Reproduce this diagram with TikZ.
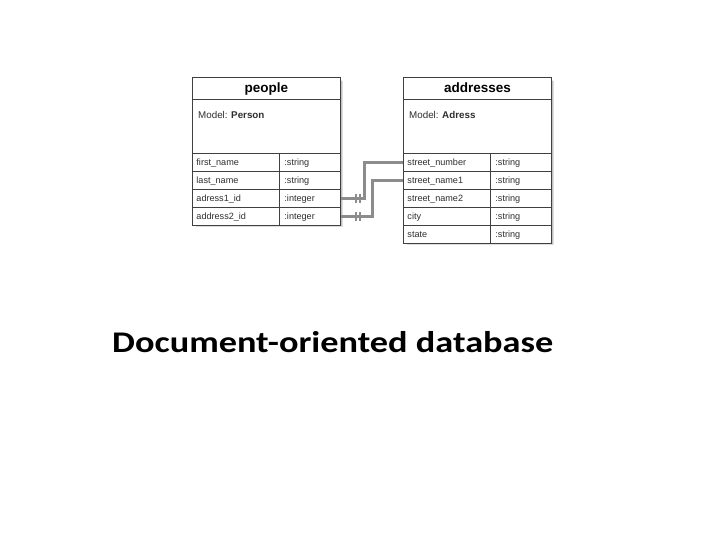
\documentclass[tikz,border=0pt]{standalone}
\usepackage{fontspec}
\setmainfont{Liberation Sans}
\newfontfamily\titlefont{Carlito}
\usetikzlibrary{calc}
\definecolor{linec}{HTML}{404040}
\definecolor{txtc}{HTML}{2E2E2E}
\definecolor{connc}{HTML}{8C8C8C}
\begin{document}
\begin{tikzpicture}[x=1pt,y=-1pt,
  cell/.style={draw=linec, line width=0.9pt, fill=white, inner sep=0pt, anchor=north west, minimum height=18pt},
  namecell/.style={cell, minimum width=87pt, text width=79pt, inner xsep=4pt, align=left, text=txtc, text height=7pt, text depth=1.6pt, font=\fontsize{9.1}{10}\selectfont},
  typecell/.style={cell, minimum width=61pt, text width=51pt, inner xsep=5pt, align=left, text=txtc, text height=7pt, text depth=1.6pt, font=\fontsize{9.1}{10}\selectfont},
  headcell/.style={cell, minimum width=148pt, minimum height=22pt, text height=10pt, text depth=2pt, font=\bfseries\fontsize{13.5}{15}\selectfont, text=black},
  modelcell/.style={cell, minimum width=148pt, minimum height=54pt},
  modeltxt/.style={anchor=base west, inner sep=0pt, text=txtc, font=\fontsize{9.8}{11}\selectfont},
  conn/.style={draw=connc, line width=3pt},
  barmark/.style={draw=connc, line width=1.6pt},
  shadowbox/.style={fill=black, opacity=0.13}
]
\useasboundingbox (0,0) rectangle (728,546);

% shadows
\foreach \d in {1,2,3}{
  \fill[shadowbox] (192+\d+1,77+\d+1) rectangle (340+\d,224+\d);
  \fill[shadowbox] (403+\d+1,77+\d+1) rectangle (551+\d,242+\d);
}

% people table
\node[headcell] (p-head) at (192,77) {people};
\node[modelcell] (p-model) at (192,99) {};
\node[modeltxt] (p-modeltxt) at (198,118) {Model: \textbf{Person}};
\node[namecell] (p-fn) at (192,153) {first\_name};
\node[typecell] (p-fnt) at (279,153) {:string};
\node[namecell] (p-ln) at (192,171) {last\_name};
\node[typecell] (p-lnt) at (279,171) {:string};
\node[namecell] (p-a1) at (192,189) {adress1\_id};
\node[typecell] (p-a1t) at (279,189) {:integer};
\node[namecell] (p-a2) at (192,207) {address2\_id};
\node[typecell] (p-a2t) at (279,207) {:integer};

% addresses table
\node[headcell] (a-head) at (403,77) {addresses};
\node[modelcell] (a-model) at (403,99) {};
\node[modeltxt] (a-modeltxt) at (409,118) {Model: \textbf{Adress}};
\node[namecell] (a-sn) at (403,153) {street\_number};
\node[typecell] (a-snt) at (490,153) {:string};
\node[namecell] (a-s1) at (403,171) {street\_name1};
\node[typecell] (a-s1t) at (490,171) {:string};
\node[namecell] (a-s2) at (403,189) {street\_name2};
\node[typecell] (a-s2t) at (490,189) {:string};
\node[namecell] (a-ci) at (403,207) {city};
\node[typecell] (a-cit) at (490,207) {:string};
\node[namecell] (a-st) at (403,225) {state};
\node[typecell] (a-stt) at (490,225) {:string};

% connectors
\draw[conn] (p-a1t.east) -- ++(24,0) |- (a-sn.west);
\draw[conn] (p-a2t.east) -- ++(32,0) |- (a-s1.west);
\foreach \n in {p-a1t,p-a2t}{
  \draw[barmark] ($(\n.east)+(15,-4.5)$) -- ++(0,9);
  \draw[barmark] ($(\n.east)+(19,-4.5)$) -- ++(0,9);
}

% title
\node[anchor=base west, inner sep=0pt, xscale=1.21, font=\titlefont\bfseries\fontsize{30}{36}\selectfont] (title) at (112,352) {Document-oriented database};
\end{tikzpicture}
\end{document}
